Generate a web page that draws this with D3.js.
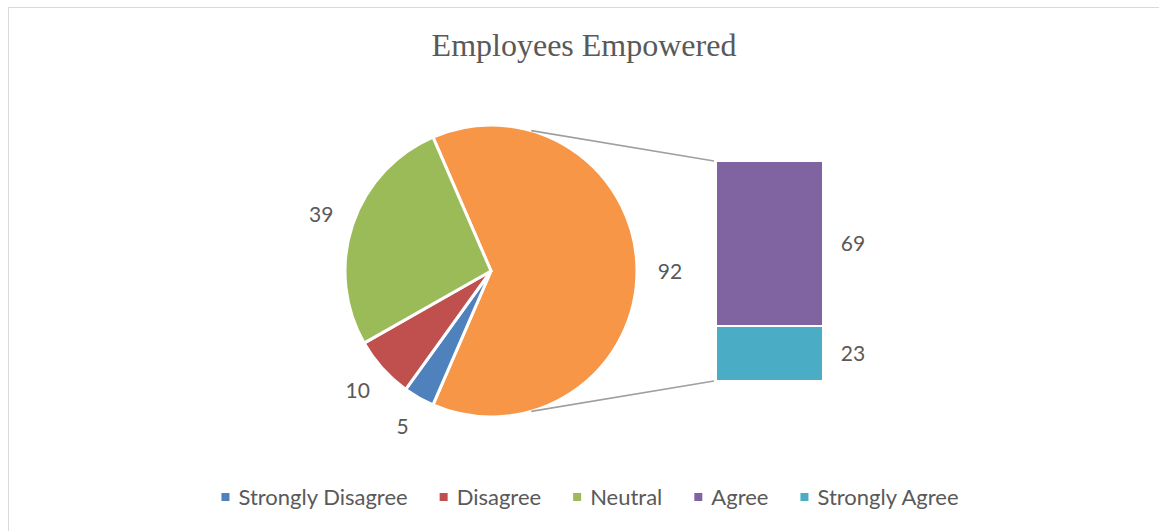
<!DOCTYPE html>
<html>
<head>
<meta charset="utf-8">
<script src="https://cdn.jsdelivr.net/npm/d3@7"></script>
<style>
  html, body { margin: 0; padding: 0; background: #fff; }
  svg { display: block; }
</style>
</head>
<body>
<svg id="chart" width="1159" height="531"></svg>
<script>
// Survey responses: "Employees Empowered"
const title = "Employees Empowered";
const pieCategories = ["Strongly Disagree", "Disagree", "Neutral"];
const pieValues = [5, 10, 39];
const barCategories = ["Agree", "Strongly Agree"];
const barValues = [69, 23];
const legendCategories = ["Strongly Disagree", "Disagree", "Neutral", "Agree", "Strongly Agree"];
const colors = ["#4F81BD", "#C0504D", "#9BBB59", "#8064A2", "#4BACC6"];
const otherColor = "#F79646";

const W = 1159, H = 531;
const textColor = "#595959";
const labelFont = "Lato, 'Open Sans', sans-serif";

const svg = d3.select("#chart");

// chart frame
svg.append("rect")
  .attr("x", 8.5).attr("y", 7.5)
  .attr("width", W).attr("height", H)
  .attr("fill", "#fff")
  .attr("stroke", "#D9D9D9")
  .attr("stroke-width", 1);

// title
svg.append("text")
  .attr("x", 584).attr("y", 56)
  .attr("text-anchor", "middle")
  .attr("font-family", "'Liberation Serif', 'Times New Roman', serif")
  .attr("font-size", 32)
  .attr("fill", textColor)
  .text(title);

// ---- pie: first three categories plus the combined "other" slice ----
const otherTotal = d3.sum(barValues);
const pieData = [
  { name: "Other", value: otherTotal, color: otherColor }
].concat(pieCategories.map((c, i) => ({ name: c, value: pieValues[i], color: colors[i] })));

const total = d3.sum(pieData, d => d.value);
const cx = 491, cy = 271, r = 146;
// centre the combined slice on the right-hand side, pointing at the bar
const start = Math.PI / 2 - (otherTotal / total) * Math.PI;

const pie = d3.pie().sort(null).value(d => d.value)
  .startAngle(start).endAngle(start + 2 * Math.PI);
const arc = d3.arc().innerRadius(0).outerRadius(r);
const labelArc = d3.arc().innerRadius(r + 33).outerRadius(r + 33);

const arcs = pie(pieData);
const gPie = svg.append("g").attr("transform", `translate(${cx},${cy})`);

// connector lines from the pie to the bar
const barX = 716, barW = 107, barTop = 161, barBottom = 381;
const connAngle = 16 * Math.PI / 180;
const gConn = svg.append("g");
[[connAngle, barTop], [Math.PI - connAngle, barBottom]].forEach(([a, yEnd]) => {
  gConn.append("line")
    .attr("x1", cx + r * Math.sin(a)).attr("y1", cy - r * Math.cos(a))
    .attr("x2", barX - 2).attr("y2", yEnd)
    .attr("stroke", "#A0A0A0").attr("stroke-width", 1.6);
});

gPie.selectAll("path").data(arcs).enter().append("path")
  .attr("d", arc)
  .attr("fill", d => d.data.color)
  .attr("stroke", "#fff")
  .attr("stroke-width", 3)
  .attr("stroke-linejoin", "round");

gPie.selectAll("text").data(arcs).enter().append("text")
  .attr("transform", d => `translate(${labelArc.centroid(d)})`)
  .attr("text-anchor", "middle")
  .attr("dy", "0.36em")
  .attr("font-family", labelFont)
  .attr("font-size", 21)
  .attr("fill", textColor)
  .text(d => d.value);

// ---- stacked bar for the split-out categories ----
const y = d3.scaleLinear().domain([0, otherTotal]).range([barBottom, barTop]);
const stackData = [{}];
barCategories.forEach((c, i) => { stackData[0][c] = barValues[i]; });
// bottom segment is the last category
const stack = d3.stack().keys(barCategories.slice().reverse());
const series = stack(stackData);

const gBar = svg.append("g");
series.forEach(s => {
  const idx = barCategories.indexOf(s.key);
  const seg = s[0];
  gBar.append("rect")
    .attr("x", barX).attr("width", barW)
    .attr("y", y(seg[1])).attr("height", y(seg[0]) - y(seg[1]))
    .attr("fill", colors[pieCategories.length + idx])
    .attr("stroke", "#fff").attr("stroke-width", 2);
  gBar.append("text")
    .attr("x", barX + barW + 30)
    .attr("y", (y(seg[0]) + y(seg[1])) / 2)
    .attr("dy", "0.36em")
    .attr("text-anchor", "middle")
    .attr("font-family", labelFont)
    .attr("font-size", 21)
    .attr("fill", textColor)
    .text(barValues[idx]);
});

// ---- legend ----
const legendY = 497, markerSize = 8, markerGap = 9, itemGap = 32;
const gLeg = svg.append("g");
const items = legendCategories.map((c, i) => {
  const g = gLeg.append("g");
  g.append("rect")
    .attr("x", 0).attr("y", legendY - markerSize / 2)
    .attr("width", markerSize).attr("height", markerSize)
    .attr("fill", colors[i]);
  const t = g.append("text")
    .attr("x", markerSize + markerGap).attr("y", legendY)
    .attr("dy", "0.36em")
    .attr("font-family", labelFont)
    .attr("font-size", 22)
    .attr("fill", textColor)
    .text(c);
  return { g, w: markerSize + markerGap + t.node().getComputedTextLength() };
});
const legendW = d3.sum(items, d => d.w) + itemGap * (items.length - 1);
let lx = 590 - legendW / 2;
items.forEach(it => {
  it.g.attr("transform", `translate(${lx},0)`);
  lx += it.w + itemGap;
});
</script>
</body>
</html>
